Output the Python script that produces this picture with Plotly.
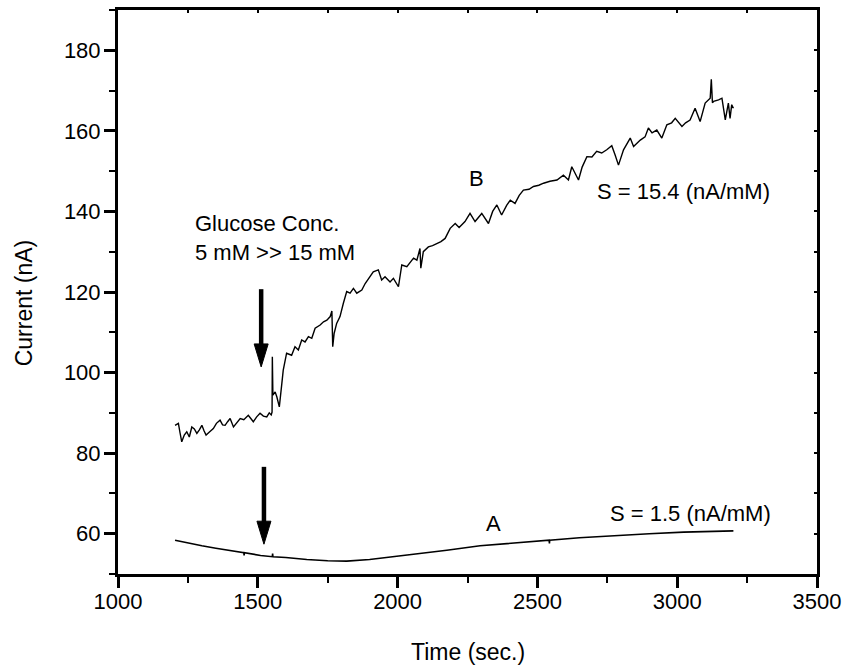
import plotly.graph_objects as go

# ---- data ----
time_b = [1204, 1216, 1222, 1228, 1237, 1246, 1255, 1264, 1273, 1282, 1291, 1300, 1308, 1315,
          1328, 1341, 1352, 1365, 1374, 1383, 1392, 1401, 1413, 1425, 1437, 1450, 1466, 1475,
          1484, 1496, 1508, 1520, 1532, 1541, 1548, 1551, 1552, 1554, 1562, 1568, 1577, 1586,
          1591, 1603, 1621, 1633, 1645, 1657, 1669, 1681, 1693, 1705, 1723, 1735, 1747, 1759,
          1765, 1768, 1773, 1782, 1794, 1806, 1818, 1830, 1842, 1854, 1872, 1884, 1902, 1913,
          1931, 1943, 1955, 1973, 1985, 2003, 2015, 2033, 2057, 2069, 2080, 2083, 2092, 2110,
          2125, 2140, 2155, 2170, 2188, 2206, 2220, 2241, 2259, 2277, 2301, 2325, 2340, 2355,
          2372, 2390, 2403, 2420, 2435, 2450, 2470, 2486, 2505, 2522, 2545, 2570, 2593, 2611,
          2623, 2647, 2660, 2677, 2695, 2712, 2730, 2748, 2766, 2778, 2790, 2808, 2832, 2844,
          2868, 2885, 2897, 2910, 2927, 2945, 2963, 2980, 2993, 3017, 3030, 3046, 3064, 3082,
          3100, 3118, 3122, 3126, 3130, 3148, 3160, 3172, 3183, 3189, 3195, 3201]
current_b = [86.9, 87.4, 85.0, 82.8, 84.5, 85.3, 84.0, 86.5, 86.0, 84.9, 85.8, 86.9, 85.5, 84.5,
             85.3, 86.1, 87.4, 88.2, 87.0, 86.9, 87.8, 88.6, 86.5, 87.6, 88.6, 88.3, 89.4, 88.6,
             87.8, 89.0, 89.9, 89.2, 89.0, 90.0, 89.5, 90.2, 103.9, 94.4, 95.2, 94.0, 91.5, 97.3,
             100.6, 104.8, 104.3, 106.4, 105.6, 108.1, 107.6, 108.9, 108.5, 111.0, 111.8, 112.6, 113.0, 113.9,
             115.3, 106.4, 109.7, 112.2, 113.9, 117.2, 120.1, 119.7, 120.9, 119.7, 120.5, 122.1, 123.8, 125.0,
             125.5, 123.0, 123.8, 122.5, 123.4, 121.3, 126.7, 126.3, 128.4, 127.9, 130.8, 125.9, 130.0, 131.2,
             131.5, 132.0, 132.5, 133.3, 135.8, 137.0, 136.0, 137.5, 139.5, 137.5, 139.5, 137.0, 140.0, 141.6,
             139.1, 141.5, 142.8, 142.0, 144.0, 145.3, 145.5, 146.2, 146.5, 147.0, 147.5, 147.8, 149.0, 147.8,
             151.1, 147.8, 151.0, 153.6, 153.5, 154.9, 154.5, 155.3, 156.3, 154.0, 151.5, 155.3, 158.2, 156.1,
             157.7, 158.5, 160.7, 159.5, 160.2, 158.2, 161.5, 162.0, 163.1, 161.1, 162.0, 162.7, 165.6, 162.3,
             166.9, 168.1, 172.8, 167.0, 167.3, 167.7, 168.1, 162.7, 166.9, 163.1, 166.5, 165.6]

time_a = [1204, 1250, 1300, 1350, 1400, 1450, 1451, 1452, 1510, 1552, 1553, 1554, 1600, 1675, 1750,
          1818, 1900, 1997, 2100, 2176, 2295, 2400, 2542, 2543, 2544, 2650, 2784, 2900, 3023, 3100, 3201]
current_a = [58.4, 57.7, 57.0, 56.4, 55.8, 55.3, 54.6, 55.3, 54.6, 54.3, 55.1, 54.3, 54.1, 53.6, 53.3,
             53.2, 53.6, 54.4, 55.2, 55.9, 57.0, 57.6, 58.4, 57.6, 58.4, 59.0, 59.6, 60.0, 60.4, 60.6, 60.7]

x_ticks = [1000, 1500, 2000, 2500, 3000, 3500]
y_ticks = [60, 80, 100, 120, 140, 160, 180]

# injection arrows: (time, tail current, tip current)
arrows = [(1512, 120.7, 101.4), (1522, 76.6, 57.4)]

FONT = "Liberation Sans, Arial, sans-serif"
FS = 22
FS_ANN = 22

W, H = 843, 667

fig = go.Figure()
fig.add_trace(go.Scatter(x=time_b, y=current_b, mode="lines",
                         line=dict(color="black", width=1.4), showlegend=False))
fig.add_trace(go.Scatter(x=time_a, y=current_a, mode="lines",
                         line=dict(color="black", width=1.6), showlegend=False))
# dummy trace for mirrored (top/right) axes
fig.add_trace(go.Scatter(x=[None], y=[None], xaxis="x2", yaxis="y2", showlegend=False))

HEAD_LEN_PX = 23
PX_PER_UNIT = 564.0 / 140.0
shapes = []
for t, tail, tip in arrows:
    shapes.append(dict(type="line", xref="x", yref="y", x0=t, x1=t, y0=tail,
                       y1=tip + (HEAD_LEN_PX - 2) / PX_PER_UNIT,
                       line=dict(color="black", width=4.5)))
    shapes.append(dict(type="path", xref="x", yref="y", xsizemode="pixel", ysizemode="pixel",
                       xanchor=t, yanchor=tip,
                       path="M0,0 L-7,%d L7,%d Z" % (HEAD_LEN_PX, HEAD_LEN_PX),
                       fillcolor="black", line=dict(color="black", width=1)))

annotations = [
    dict(x=1268, y=136.9, text="Glucose Conc.", showarrow=False, xanchor="left", yanchor="middle"),
    dict(x=1268, y=129.7, text="5 mM >> 15 mM", showarrow=False, xanchor="left", yanchor="middle"),
    dict(x=2283, y=148.2, text="B", showarrow=False, xanchor="center", yanchor="middle"),
    dict(x=2707, y=144.9, text="S = 15.4 (nA/mM)", showarrow=False, xanchor="left", yanchor="middle"),
    dict(x=2342, y=62.5, text="A", showarrow=False, xanchor="center", yanchor="middle"),
    dict(x=2754, y=65.0, text="S = 1.5 (nA/mM)", showarrow=False, xanchor="left", yanchor="middle"),
]
for a in annotations:
    a["font"] = dict(family=FONT, size=FS_ANN, color="black")
    a["xref"] = "x"
    a["yref"] = "y"

# axis titles as annotations for exact placement
annotations.append(dict(text="Time (sec.)", xref="paper", yref="paper", x=0.5, y=0,
                        xanchor="center", yanchor="middle", yshift=-78, showarrow=False,
                        font=dict(family=FONT, size=23, color="black")))
annotations.append(dict(text="Current (nA)", xref="paper", yref="paper", x=0, y=0.48,
                        xanchor="center", yanchor="middle", xshift=-94, textangle=-90,
                        showarrow=False, font=dict(family=FONT, size=23, color="black")))

axis_common = dict(showgrid=False, zeroline=False, linecolor="black", linewidth=3,
                   showline=True, automargin=False,
                   tickcolor="black", tickwidth=2.5,
                   tickfont=dict(family=FONT, size=FS, color="black"))

fig.update_layout(
    width=W, height=H,
    margin=dict(l=118, r=26, t=10, b=93),
    paper_bgcolor="white", plot_bgcolor="white",
    font=dict(family=FONT, size=FS, color="black"),
    shapes=shapes, annotations=annotations,
    xaxis=dict(range=[1000, 3500], tickvals=x_ticks, ticks="outside", ticklen=11,
               ticklabelstandoff=-5,
               minor=dict(dtick=250, tick0=1000, ticks="outside", ticklen=6, tickwidth=2, tickcolor="black"),
               **axis_common),
    yaxis=dict(range=[50, 190], tickvals=y_ticks, ticks="outside", ticklen=11,
               ticklabelstandoff=-1,
               minor=dict(dtick=10, tick0=50, ticks="outside", ticklen=6, tickwidth=2, tickcolor="black"),
               **axis_common),
    xaxis2=dict(range=[1000, 3500], overlaying="x", side="top", showgrid=False, zeroline=False,
                showline=True, linecolor="black", linewidth=3, tickvals=x_ticks, ticks="inside",
                ticklen=3, tickwidth=1.5, tickcolor="black", showticklabels=False, automargin=False,
                minor=dict(dtick=250, tick0=1000, ticks="inside", ticklen=3, tickwidth=1.5, tickcolor="black")),
    yaxis2=dict(range=[50, 190], overlaying="y", side="right", showgrid=False, zeroline=False,
                showline=True, linecolor="black", linewidth=3, tickvals=y_ticks, ticks="inside",
                ticklen=3, tickwidth=1.5, tickcolor="black", showticklabels=False, automargin=False,
                minor=dict(dtick=10, tick0=50, ticks="inside", ticklen=3, tickwidth=1.5, tickcolor="black")),
)

# remove the browser's default 8px body margin so the 843x667 figure fills the window
fig.write_html("out.html", config={"displayModeBar": False},
               post_script="document.body.style.margin='0';document.body.style.overflow='hidden';")
